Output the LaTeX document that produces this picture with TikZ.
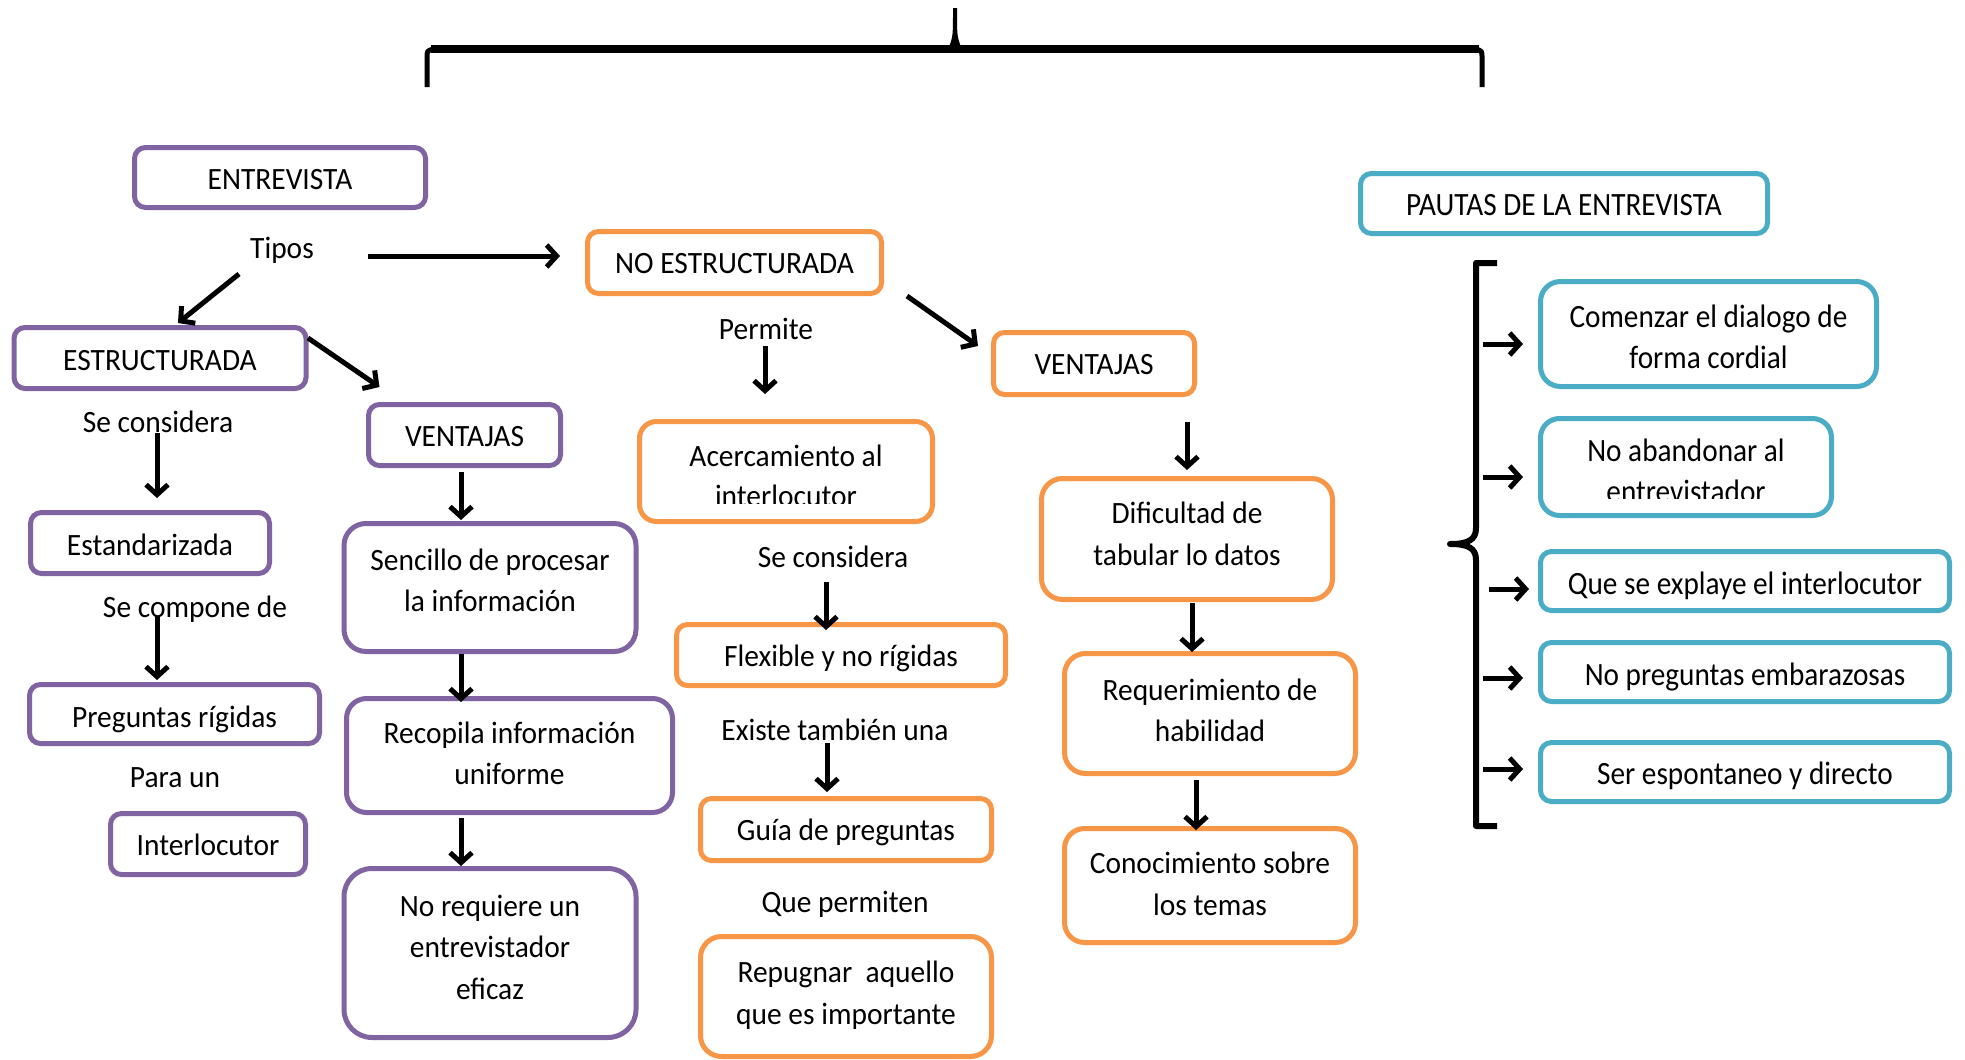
\documentclass[tikz,border=0pt]{standalone}
\usepackage{fontspec}
\setmainfont{Carlito}[FakeStretch=0.95]
\newfontfamily\bluefont{Carlito}[FakeStretch=0.9]
\usetikzlibrary{arrows.meta}
\definecolor{purp}{HTML}{8064A2}
\definecolor{oran}{HTML}{F79646}
\definecolor{blu}{HTML}{4BACC6}
\newcommand\ml[1]{\begin{tabular}[t]{@{}c@{}}#1\end{tabular}}
\tikzset{
  box/.style={draw, line width=5pt, inner sep=0pt, font=\fontsize{31}{41.5}\selectfont},
  pbox/.style={box, draw=purp},
  obox/.style={box, draw=oran},
  bbox/.style={box, draw=blu, font=\bluefont\fontsize{32.5}{41}\selectfont},
  btxt/.style={inner sep=0pt, font=\bluefont\fontsize{32.5}{41}\selectfont},
  otxt/.style={inner sep=0pt, font=\fontsize{31}{40.5}\selectfont},
  lbl/.style={font=\fontsize{31}{40.5}\selectfont, inner sep=0pt, anchor=base},
  tb/.style 2 args={text height=#1pt, text depth=#2pt},
  arr/.style={line width=5pt, -{Straight Barb[length=10pt,width=22pt]}},
  brace/.style={line width=6pt, line join=round, line cap=butt},
}
\begin{document}
\begin{tikzpicture}[x=1pt,y=-1pt]
\fill[white] (0,0) rectangle (1965,1060);
\useasboundingbox (0,0) rectangle (1965,1060);

% top brace
\draw[line width=8pt] (431,49) -- (1479,49);
\draw[line width=5pt] (427,87) -- (427,58) .. controls (427,51) .. (433,49);
\draw[line width=5pt] (1482,87) -- (1482,58) .. controls (1482,51) .. (1476,49);
\fill (949,47) .. controls (953,36) .. (953,8) -- (957,8) .. controls (957,36) .. (961,47) -- cycle;

% purple column
\node[pbox, tb={36.5}{13.5}, minimum width=291pt, minimum height=60pt, rounded corners=11pt] (entrev) at (280,177.5) {ENTREVISTA};
\node[lbl] (tipos) at (282,258) {Tipos};
\node[pbox, tb={37}{13}, minimum width=292pt, minimum height=61pt, rounded corners=11pt] (estruct) at (160,358) {ESTRUCTURADA};
\node[pbox, tb={36}{14}, minimum width=192pt, minimum height=61pt, rounded corners=11pt] (ventp) at (464.5,435) {VENTAJAS};
\node[lbl] (secons1) at (158,432) {Se considera};
\node[pbox, tb={37}{13}, minimum width=239pt, minimum height=61pt, rounded corners=11pt] (estand) at (150,543) {Estandarizada};
\node[lbl] (secomp) at (195,617) {Se compone de};
\node[pbox, tb={38}{12}, minimum width=290pt, minimum height=59pt, rounded corners=11pt] (pregr) at (174.5,714) {Preguntas rígidas};
\node[lbl] (paraun) at (175,787) {Para un};
\node[pbox, tb={36}{14}, minimum width=195pt, minimum height=61pt, rounded corners=11pt] (interl) at (208,844) {Interlocutor};
\node[pbox, tb={12.5}{47.5}, minimum width=292pt, minimum height=128pt, rounded corners=22pt] (sencillo) at (490,587.5) {\ml{Sencillo de procesar\\la información}};
\node[pbox, tb={17.5}{42.5}, minimum width=326pt, minimum height=114pt, rounded corners=20pt] (recop) at (509.5,755.5) {\ml{Recopila información\\uniforme}};
\node[pbox, tb={8}{82}, minimum width=292pt, minimum height=169pt, rounded corners=28pt] (noreq) at (490,953) {\ml{No requiere un\\entrevistador\\eficaz}};

% orange columns
\node[obox, tb={35.5}{14.5}, minimum width=294pt, minimum height=62pt, rounded corners=11pt] (noest) at (734.5,262.5) {NO ESTRUCTURADA};
\node[lbl] (permite) at (766,339) {Permite};
\node[obox, tb={35.5}{14.5}, minimum width=201pt, minimum height=62pt, rounded corners=11pt] (vento) at (1094,363.5) {VENTAJAS};
\node[obox, minimum width=293pt, minimum height=100pt, rounded corners=17pt] (acerc) at (786,471.5) {};
\begin{scope}
  \clip (640,420) rectangle (932,503);
  \node[otxt, anchor=base] (acerctxt) at (786,466) {\ml{Acercamiento al\\interlocutor}};
\end{scope}
\node[lbl] (secons2) at (833,567) {Se considera};
\node[obox, tb={36}{14}, minimum width=329pt, minimum height=61pt, rounded corners=11pt] (flex) at (841,655) {Flexible y no rígidas};
\node[lbl] (existe) at (835,740) {Existe también una};
\node[obox, tb={35.5}{14.5}, minimum width=291pt, minimum height=62pt, rounded corners=11pt] (guia) at (846,829.5) {Guía de preguntas};
\node[lbl] (queperm) at (845,912) {Que permiten};
\node[obox, tb={16}{44}, minimum width=291pt, minimum height=120pt, rounded corners=21pt] (repug) at (846,996.5) {\ml{Repugnar\ \ aquello\\que es importante}};
\node[obox, tb={14.5}{45.5}, minimum width=291pt, minimum height=121pt, rounded corners=21pt] (dific) at (1187,539) {\ml{Dificultad de\\tabular lo datos}};
\node[obox, tb={16.5}{43.5}, minimum width=291pt, minimum height=120pt, rounded corners=21pt] (requer) at (1210,713.5) {\ml{Requerimiento de\\habilidad}};
\node[obox, tb={18}{42}, minimum width=291pt, minimum height=114pt, rounded corners=20pt] (conoc) at (1210,885.5) {\ml{Conocimiento sobre\\los temas}};

% blue column
\node[bbox, tb={37}{13}, minimum width=407pt, minimum height=60pt, rounded corners=11pt] (pautas) at (1564,203.5) {PAUTAS DE LA ENTREVISTA};
\node[bbox, tb={23}{37}, minimum width=336pt, minimum height=105pt, rounded corners=20pt] (comenz) at (1708.5,334) {\ml{Comenzar el dialogo de\\forma cordial}};
\node[bbox, minimum width=291pt, minimum height=97pt, rounded corners=19pt] (noaban) at (1686,467) {};
\begin{scope}
  \clip (1541,419) rectangle (1831,498.5);
  \node[btxt, anchor=base] (noabantxt) at (1686,461.5) {\ml{No abandonar al\\entrevistador}};
\end{scope}
\node[bbox, tb={38}{12}, minimum width=409pt, minimum height=59pt, rounded corners=11pt] (quese) at (1745,581) {Que se explaye el interlocutor};
\node[bbox, tb={38}{12}, minimum width=409pt, minimum height=59pt, rounded corners=11pt] (nopreg) at (1745,672) {No preguntas embarazosas};
\node[bbox, tb={37}{13}, minimum width=409pt, minimum height=59pt, rounded corners=11pt] (seresp) at (1745,772) {Ser espontaneo y directo};

% right bracket
\draw[brace] (1497,263) -- (1476,263) -- (1476,528)
  .. controls (1476,540) and (1468,544) .. (1450,544)
  .. controls (1468,544) and (1476,548) .. (1476,560)
  -- (1476,826) -- (1497,826);
\coordinate (br1) at (1483,344);
\coordinate (br2) at (1483,477);
\coordinate (br3) at (1489,589);
\coordinate (br4) at (1483,678);
\coordinate (br5) at (1483,769);

% arrows
\draw[arr] ([shift={(86,-2)}]tipos.base) -- ([shift={(-174.5,-6.5)}]noest.center);
\draw[arr] ([shift={(-43,16)}]tipos.base) -- ([shift={(18,-35)}]estruct.center);
\draw[arr] ([shift={(148,-20)}]estruct.center) -- ([shift={(-85,-48)}]ventp.center);
\draw[arr] ([shift={(-1,1)}]secons1.base) -- ([shift={(7,-45)}]estand.center);
\draw[arr] ([shift={(-38,-1)}]secomp.base) -- ([shift={(-17.5,-34)}]pregr.center);
\draw[arr] ([shift={(-3.5,37)}]ventp.center) -- ([shift={(-29,-67.5)}]sencillo.center);
\draw[arr] ([shift={(-29,66)}]sencillo.center) -- ([shift={(-48.5,-53.5)}]recop.center);
\draw[arr] ([shift={(-48.5,62.5)}]recop.center) -- ([shift={(-29,-87)}]noreq.center);
\draw[arr] ([shift={(-1,7)}]permite.base) -- ([shift={(-21,-77.5)}]acerc.center);
\draw[arr] ([shift={(172.5,33.5)}]noest.center) -- ([shift={(-116,-17.5)}]vento.center);
\draw[arr] ([shift={(93,58.5)}]vento.center) -- ([shift={(0,-69)}]dific.center);
\draw[arr] ([shift={(-7,15)}]secons2.base) -- ([shift={(-15,-25)}]flex.center);
\draw[arr] ([shift={(-8,3)}]existe.base) -- ([shift={(-19,-37.5)}]guia.center);
\draw[arr] ([shift={(5,64)}]dific.center) -- ([shift={(-18,-61.5)}]requer.center);
\draw[arr] ([shift={(-14,66.5)}]requer.center) -- ([shift={(-14,-55.5)}]conoc.center);
\draw[arr] (br1) -- ([shift={(-185.5,10)}]comenz.center);
\draw[arr] (br2) -- ([shift={(-163,10)}]noaban.center);
\draw[arr] (br3) -- ([shift={(-216,8)}]quese.center);
\draw[arr] (br4) -- ([shift={(-222,6)}]nopreg.center);
\draw[arr] (br5) -- ([shift={(-222,-3)}]seresp.center);
\end{tikzpicture}
\end{document}
